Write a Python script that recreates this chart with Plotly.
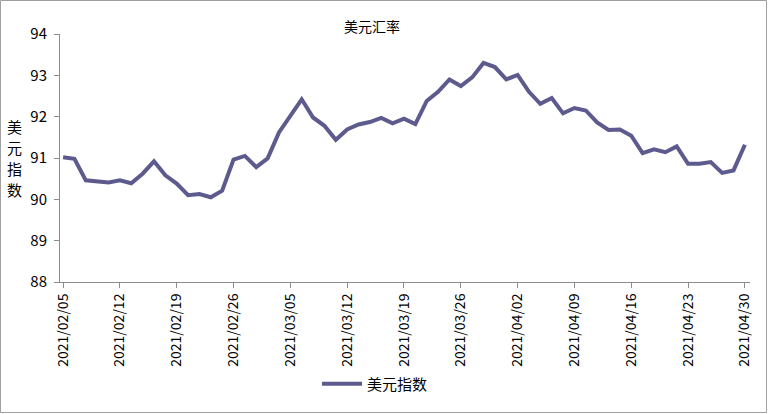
import plotly.graph_objects as go

dates = ["2021/02/05","2021/02/08","2021/02/09","2021/02/10","2021/02/11","2021/02/12",
         "2021/02/15","2021/02/16","2021/02/17","2021/02/18","2021/02/19",
         "2021/02/22","2021/02/23","2021/02/24","2021/02/25","2021/02/26",
         "2021/03/01","2021/03/02","2021/03/03","2021/03/04","2021/03/05",
         "2021/03/08","2021/03/09","2021/03/10","2021/03/11","2021/03/12",
         "2021/03/15","2021/03/16","2021/03/17","2021/03/18","2021/03/19",
         "2021/03/22","2021/03/23","2021/03/24","2021/03/25","2021/03/26",
         "2021/03/29","2021/03/30","2021/03/31","2021/04/01","2021/04/02",
         "2021/04/05","2021/04/06","2021/04/07","2021/04/08","2021/04/09",
         "2021/04/12","2021/04/13","2021/04/14","2021/04/15","2021/04/16",
         "2021/04/19","2021/04/20","2021/04/21","2021/04/22","2021/04/23",
         "2021/04/26","2021/04/27","2021/04/28","2021/04/29","2021/04/30"]

usd_index = [91.02, 90.98, 90.46, 90.43, 90.41, 90.46,
             90.39, 90.62, 90.92, 90.58, 90.38,
             90.10, 90.13, 90.05, 90.21, 90.96,
             91.05, 90.78, 90.99, 91.62, 92.02,
             92.42, 91.98, 91.78, 91.44, 91.69,
             91.81, 91.87, 91.97, 91.84, 91.95,
             91.82, 92.38, 92.60, 92.90, 92.74,
             92.95, 93.30, 93.20, 92.90, 93.01,
             92.60, 92.31, 92.45, 92.08, 92.21,
             92.15, 91.86, 91.68, 91.69, 91.54,
             91.12, 91.21, 91.14, 91.28, 90.86,
             90.86, 90.90, 90.64, 90.70, 91.32]

y_title_chars = ["美", "元", "指", "数"]

tick_step = 5
x_idx = list(range(len(dates)))
tick_vals = x_idx[::tick_step]
tick_text = dates[::tick_step]

font_family = "Noto Sans CJK SC, Noto Sans, sans-serif"
line_color = "#5d5b8e"
axis_color = "#8c8c8c"

fig = go.Figure()
fig.add_trace(go.Scatter(
    x=x_idx, y=usd_index, mode="lines", name="美元指数",
    line=dict(color=line_color, width=4),
))

W, H = 768, 414
L, R, T, B = 60, 18, 34, 132
pw, ph = W - L - R, H - T - B

char_y_px = [126, 147, 168, 189]
annotations = [
    dict(text=ch, xref="paper", yref="paper",
         x=(14 - L) / pw, y=(H - B - cy) / ph, xanchor="center",
         yanchor="middle", showarrow=False,
         font=dict(size=15, family=font_family, color="#000000"))
    for ch, cy in zip(y_title_chars, char_y_px)
]

fig.update_layout(
    width=W, height=H,
    margin=dict(l=L, r=R, t=T, b=B, pad=0),
    paper_bgcolor="white", plot_bgcolor="white",
    font=dict(family=font_family, size=14, color="#000000"),
    title=dict(text="美元汇率", x=372 / W, xref="container", xanchor="center",
               y=1 - 27 / H, yref="container", yanchor="middle",
               font=dict(size=14, family=font_family, color="#000000")),
    showlegend=True,
    legend=dict(orientation="h", x=(375 - L) / pw, xanchor="center",
                y=(H - B - 384) / ph, yanchor="middle",
                font=dict(size=15, family=font_family), itemwidth=40,
                bgcolor="rgba(0,0,0,0)"),
    xaxis=dict(range=[-0.27, 60.45], tickmode="array", tickvals=tick_vals,
               ticktext=tick_text, tickangle=-90, showgrid=False, zeroline=False,
               showline=True, linecolor=axis_color, linewidth=1,
               ticks="outside", ticklen=5, tickcolor=axis_color,
               tickfont=dict(size=14, family=font_family)),
    yaxis=dict(range=[88, 94], dtick=1, showgrid=False, zeroline=False,
               showline=True, linecolor=axis_color, linewidth=1,
               ticks="outside", ticklen=5, tickcolor=axis_color,
               ticklabelstandoff=4,
               tickfont=dict(size=15, family=font_family)),
    annotations=annotations,
    shapes=[dict(type="rect", xref="paper", yref="paper",
                 x0=(0.5 - L) / pw, x1=(W - 1.5 - L) / pw,
                 y0=(H - B - (H - 1.5)) / ph, y1=(H - B - 0.5) / ph,
                 line=dict(color="#a0a0a0", width=1), layer="below")],
)

fig.write_html("out.html")
